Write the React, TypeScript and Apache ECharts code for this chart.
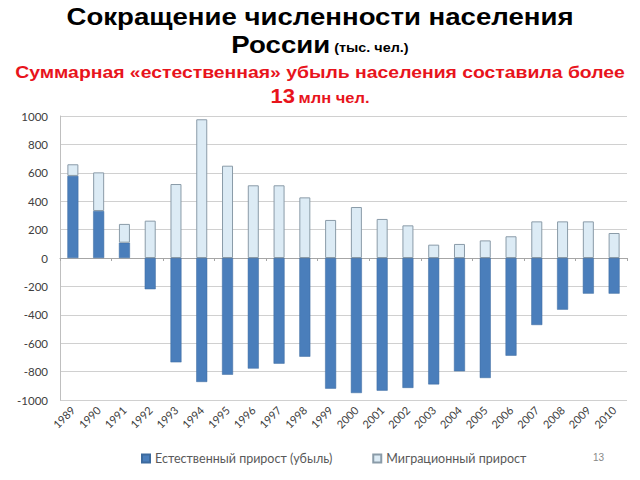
import React, { useEffect, useRef } from "react";
import * as echarts from "echarts";

const years = ["1989","1990","1991","1992","1993","1994","1995","1996","1997","1998","1999","2000","2001","2002","2003","2004","2005","2006","2007","2008","2009","2010"];
const naturalGrowth = [578, 331, 108, -220, -735, -873, -822, -779, -744, -695, -920, -951, -934, -915, -890, -798, -845, -688, -472, -364, -251, -251];
const migrationGrowth = [82, 272, 132, 263, 521, 977, 650, 512, 512, 427, 268, 359, 275, 230, 94, 99, 124, 153, 258, 258, 258, 176];
const yTicks = { min: -1000, max: 1000, interval: 200 };
const legendNames = ["Естественный прирост (убыль)", "Миграционный прирост"];

export default function App() {
  const ref = useRef<HTMLDivElement>(null);
  useEffect(() => {
    if (!ref.current) return;
    const chart = echarts.init(ref.current, null, { renderer: "svg" });
    const font = "Liberation Sans";
    const red = "#E8141C";
    chart.setOption({
      animation: false,
      backgroundColor: "#ffffff",
      graphic: [
        {
          type: "text",
          x: 320,
          y: 17,
          scaleX: 1.2,
          style: {
            text: "Сокращение численности населения",
            fontFamily: font, fontSize: 23, fontWeight: "bold", fill: "#000",
            align: "center", verticalAlign: "middle",
          },
        },
        {
          type: "text",
          x: 320,
          y: 45,
          scaleX: 1.2,
          style: {
            text: "{a|России} {b|(тыс. чел.)}",
            align: "center", verticalAlign: "middle",
            rich: {
              a: { fontFamily: font, fontSize: 23, fontWeight: "bold", fill: "#000" },
              b: { fontFamily: font, fontSize: 12, fontWeight: "bold", fill: "#000", padding: [6, 0, 0, 0] },
            },
          },
        },
        {
          type: "text",
          x: 320,
          y: 72,
          scaleX: 1.14,
          style: {
            text: "Суммарная «естественная» убыль населения составила более",
            fontFamily: font, fontSize: 17, fontWeight: "bold", fill: red,
            align: "center", verticalAlign: "middle",
          },
        },
        {
          type: "text",
          x: 320,
          y: 96,
          scaleX: 1.1,
          style: {
            text: "{a|13} {b|млн чел.}",
            align: "center", verticalAlign: "middle",
            rich: {
              a: { fontFamily: font, fontSize: 20, fontWeight: 900, fill: red },
              b: { fontFamily: font, fontSize: 15, fontWeight: "bold", fill: red, padding: [3, 0, 0, 0] },
            },
          },
        },
        {
          type: "text",
          left: 593,
          top: 452,
          style: { text: "13", fontFamily: font, fontSize: 10, fill: "#888" },
        },
      ],
      legend: {
        bottom: 10,
        left: 136,
        itemWidth: 8,
        itemHeight: 8,
        itemGap: 40,
        icon: "rect",
        textStyle: { fontFamily: "Lato", fontSize: 12.5, color: "#595959" },
        data: legendNames,
      },
      grid: { left: 60, right: 13, top: 116, bottom: 80, containLabel: false },
      xAxis: [
        {
          type: "category",
          data: years,
          axisLine: { show: false, onZero: false },
          axisTick: { show: false },
          axisLabel: {
            interval: 0,
            rotate: 45,
            fontFamily: "Lato",
            fontSize: 11,
            color: "#404040",
            margin: 8,
          },
          position: "bottom",
        },
        {
          type: "category",
          data: years,
          position: "bottom",
          axisLine: { show: true, onZero: true, lineStyle: { color: "#A6A6A6" } },
          axisTick: { show: true, length: 3, lineStyle: { color: "#A6A6A6" } },
          axisLabel: { show: false },
          splitLine: { show: false },
        },
      ],
      yAxis: {
        type: "value",
        min: yTicks.min,
        max: yTicks.max,
        interval: yTicks.interval,
        axisLine: { show: true, lineStyle: { color: "#BFBFBF" } },
        axisTick: { show: false },
        axisLabel: {
          fontFamily: "Lato", fontSize: 11.5, color: "#404040", margin: 12,
          formatter: (v: number) => String(v),
        },
        splitLine: { lineStyle: { color: "#D0D0D0" } },
      },
      series: [
        {
          name: legendNames[0],
          type: "bar",
          stack: "total",
          xAxisIndex: 0,
          barWidth: 11,
          data: naturalGrowth,
          itemStyle: { color: "#4A7EBB", borderColor: "#3C6A9E", borderWidth: 0.5 },
        },
        {
          name: legendNames[1],
          type: "bar",
          stack: "total",
          xAxisIndex: 0,
          barWidth: 11,
          data: migrationGrowth,
          itemStyle: { color: "#DCEBF5", borderColor: "#8A9BA8", borderWidth: 1 },
        },
      ],
    });
    return () => chart.dispose();
  }, []);
  return <div ref={ref} style={{ width: 640, height: 480, margin: -8 }} />;
}
